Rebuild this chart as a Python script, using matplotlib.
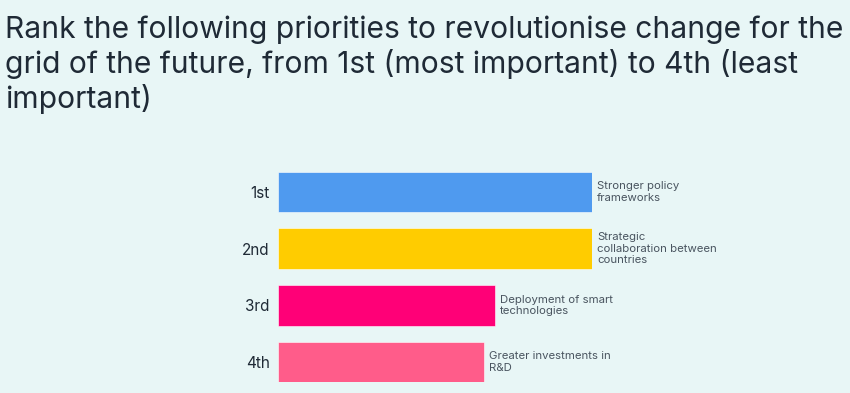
import matplotlib.pyplot as plt
from matplotlib.transforms import offset_copy

ranks = ["1st", "2nd", "3rd", "4th"]
priorities = [
    "Stronger policy\nframeworks",
    "Strategic\ncollaboration between\ncountries",
    "Deployment of smart\ntechnologies",
    "Greater investments in\nR&D",
]
scores = [100, 100, 69, 65.5]
colors = ["#4f9aef", "#ffcc00", "#ff0077", "#ff5c8a"]

bg = "#e8f6f6"
dark = "#1f2a36"
grey = "#4a5560"

plt.rcParams["font.family"] = ["Inter", "DejaVu Sans"]

fig = plt.figure(figsize=(8.5, 3.93), dpi=100, facecolor=bg)
fig.text(5 / 850, 1 - 15 / 393,
         "Rank the following priorities to revolutionise change for the\n"
         "grid of the future, from 1st (most important) to 4th (least\n"
         "important)",
         ha="left", va="top", fontsize=21.6, color=dark, linespacing=1.22)

ax = fig.add_axes([278 / 850, 1 - 382.4 / 393, (592 - 278) / 850, (382.4 - 171.7) / 393])
ax.set_facecolor(bg)
ax.barh(range(len(ranks)), scores, height=0.713, color=colors,
        edgecolor="white", linewidth=0.4)
ax.set_xlim(0, 100)
ax.set_ylim(len(ranks) - 1 + 0.3565, -0.3565)
ax.set_yticks(range(len(ranks)))
ax.set_yticklabels(ranks, fontsize=11, color=dark)
ax.tick_params(axis="y", length=0, pad=6)
ax.set_xticks([])
for s in ax.spines.values():
    s.set_visible(False)

trans = offset_copy(ax.transData, fig=fig, x=5, y=0, units="dots")
for i, (v, lab) in enumerate(zip(scores, priorities)):
    ax.text(v, i, lab, transform=trans, ha="left", va="center",
            fontsize=8.2, color=grey, linespacing=1.2, clip_on=False)

fig.savefig("out.png", dpi=100, facecolor=bg)
